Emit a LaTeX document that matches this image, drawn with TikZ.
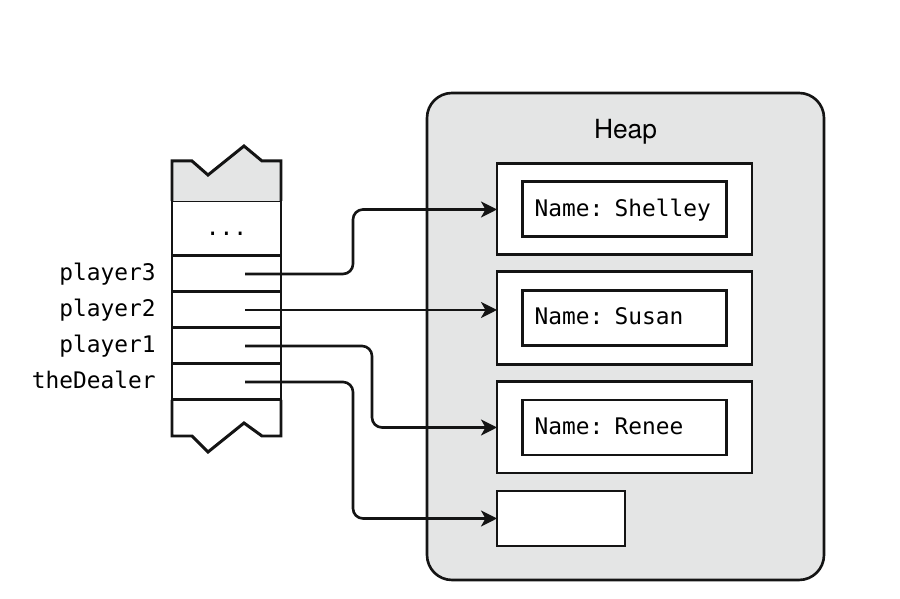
\documentclass[tikz,border=0pt]{standalone}
\usepackage{fontspec}
\usepackage{tikz}
\usetikzlibrary{arrows.meta, positioning, calc}
\newfontfamily\codefont{DejaVu Sans Mono}
\newfontfamily\labelfont{TeX Gyre Heros}
\definecolor{heapgray}{RGB}{228,229,229}
\definecolor{inkdark}{RGB}{20,20,20}
\tikzset{
  cell/.style={rectangle, draw=inkdark, fill=white, line width=1.7pt,
    minimum width=2.18cm, minimum height=0.72cm, outer sep=0pt, inner sep=0pt},
  heapbox/.style={rectangle, draw=inkdark, fill=heapgray, line width=1.5pt,
    rounded corners=0.5cm, outer sep=0pt},
  objbox/.style={rectangle, draw=inkdark, fill=white, line width=1.7pt,
    minimum width=5.1cm, outer sep=0pt, inner sep=0pt},
  namebox/.style={rectangle, draw=inkdark, fill=white, line width=1.7pt,
    text width=3.6cm, inner xsep=0.24cm, inner ysep=0pt, align=left,
    text height=0.75em, text depth=0pt,
    minimum height=1.1cm, font=\codefont\fontsize{13}{15}\selectfont},
  varname/.style={anchor=base east, inner sep=0pt,
    font=\codefont\fontsize{13}{15}\selectfont},
  ptr/.style={-{Stealth[length=3.2mm, width=3.2mm, inset=0.9mm]},
    line width=1.5pt, color=inkdark, rounded corners=0.2cm}
}
\begin{document}
\begin{tikzpicture}
  \useasboundingbox (0,0) rectangle (18,11.98);

  % Heap
  \node[heapbox, minimum width=7.94cm, minimum height=9.74cm] (heap) at (12.51,5.25) {};
  \node[font=\labelfont\fontsize{15}{17}\selectfont, anchor=base, inner sep=0pt]
    (heaplbl) at ([yshift=-0.92cm]heap.north) {Heap};

  \node[objbox, minimum height=1.82cm] (shelley) at (12.49,7.79) {};
  \node[namebox] (shelleyname) at (shelley.center) {Name: Shelley};
  \node[objbox, minimum height=1.86cm] (susan) at (12.49,5.62) {};
  \node[namebox] (susanname) at (susan.center) {Name: Susan};
  \node[objbox, minimum height=1.82cm] (renee) at (12.49,3.43) {};
  \node[namebox] (reneename) at (renee.center) {Name: Renee};
  \node[objbox, minimum width=2.56cm, minimum height=1.1cm] (dealer) at (11.22,1.61) {};

  % Stack
  \node[cell, minimum height=1.1cm] (cdots) at (4.53,7.41) {};
  \node[font=\codefont\fontsize{13}{15}\selectfont, anchor=base, inner sep=0pt]
    (dots) at ([yshift=-0.14cm]cdots.center) {...};
  \node[cell, below=0pt of cdots] (c3) {};
  \node[cell, below=0pt of c3] (c2) {};
  \node[cell, below=0pt of c2] (c1) {};
  \node[cell, below=0pt of c1] (c0) {};
  \draw[line width=1.7pt, color=inkdark, fill=heapgray, line join=miter]
    (cdots.north west) -- ++(0,0.8) -- ++(0.4,0) -- ++(0.32,-0.28)
    -- ++(0.72,0.58) -- ++(0.36,-0.3) -| (cdots.north east);
  \draw[line width=1.7pt, color=inkdark, line join=miter]
    (c0.south west) -- ++(0,-0.72) -- ++(0.4,0) -- ++(0.32,-0.32)
    -- ++(0.72,0.58) -- ++(0.36,-0.26) -| (c0.south east);

  \node[varname] (n3) at ([xshift=-0.32cm, yshift=-0.14cm]c3.west) {player3};
  \node[varname] (n2) at ([xshift=-0.32cm, yshift=-0.14cm]c2.west) {player2};
  \node[varname] (n1) at ([xshift=-0.32cm, yshift=-0.14cm]c1.west) {player1};
  \node[varname] (n0) at ([xshift=-0.32cm, yshift=-0.14cm]c0.west) {theDealer};

  % References
  \coordinate (p3) at ([xshift=0.37cm]c3.center);
  \coordinate (p2) at ([xshift=0.37cm]c2.center);
  \coordinate (p1) at ([xshift=0.37cm]c1.center);
  \coordinate (p0) at ([xshift=0.37cm]c0.center);
  \draw[ptr] (p3) -- ++(2.16,0) |- (shelley.west);
  \draw[ptr] (p2) -- (p2 -| susan.west);
  \draw[ptr] (p1) -- ++(2.54,0) |- (renee.west);
  \draw[ptr] (p0) -- ++(2.16,0) |- (dealer.west);
\end{tikzpicture}
\end{document}
